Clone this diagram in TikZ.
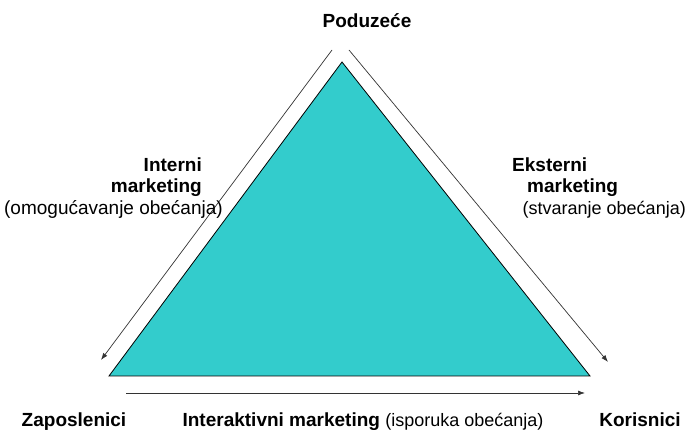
\documentclass[tikz,border=0pt]{standalone}
\usepackage{fontspec}
\setmainfont{Liberation Sans}
\usetikzlibrary{arrows.meta, positioning}

\begin{document}
\begin{tikzpicture}[
    x=1pt, y=-1pt,
    corner/.style={font=\bfseries, anchor=base, inner sep=0pt},
    side/.style={font=\bfseries, anchor=base, inner sep=0pt},
    promise/.style={font=\fontsize{18}{22}\selectfont, anchor=base, inner sep=0pt},
    flow/.style={-{Latex[length=7pt,width=5pt]}, line width=0.7pt, black!80},
    >=Latex
  ]
  \useasboundingbox (0,0) rectangle (689,430);
  \fontsize{19}{23}\selectfont

  % Triangle
  \coordinate (top) at (342,62);
  \coordinate (left) at (109,376);
  \coordinate (right) at (590,376);
  \filldraw[draw=black, line width=0.8pt,
            fill={rgb,255:red,51;green,204;blue,204}] (top) -- (left) -- (right) -- cycle;

  % Corners
  \node[corner] (firm) at (367,28) {Poduzeće};
  \node[corner] (staff) at (74,427) {Zaposlenici};
  \node[corner] (clients) at (640,427) {Korisnici};

  % Arrows
  \coordinate (intA) at (332,50);
  \coordinate (intB) at (101,360);
  \coordinate (extA) at (349,50);
  \coordinate (extB) at (608,362);
  \coordinate (iaA) at (126,393);
  \coordinate (iaB) at (585,393);
  \draw[flow] (intA) -- (intB);
  \draw[flow] (extA) -- (extB);
  \draw[flow] (iaA) -- (iaB);

  % Internal marketing
  \node[side, anchor=base east] (intl1) at (202,172) {Interni};
  \node[side, anchor=base east] (intl2) at (202,193) {marketing};
  \node[promise, font=\fontsize{19}{23}\selectfont, anchor=base east] (intl3) at (223,215) {(omogućavanje obećanja)};

  % External marketing
  \node[side, anchor=base west] (extl1) at (512,172) {Eksterni};
  \node[side, anchor=base west] (extl2) at (527,193) {marketing};
  \node[promise, anchor=base east] (extl3) at (686,215) {(stvaranje obećanja)};

  % Interactive marketing
  \node[promise] (ial) at (363,427) {\fontsize{19}{23}\selectfont\textbf{Interaktivni marketing} \fontsize{18}{22}\selectfont(isporuka obećanja)};

\end{tikzpicture}
\end{document}
